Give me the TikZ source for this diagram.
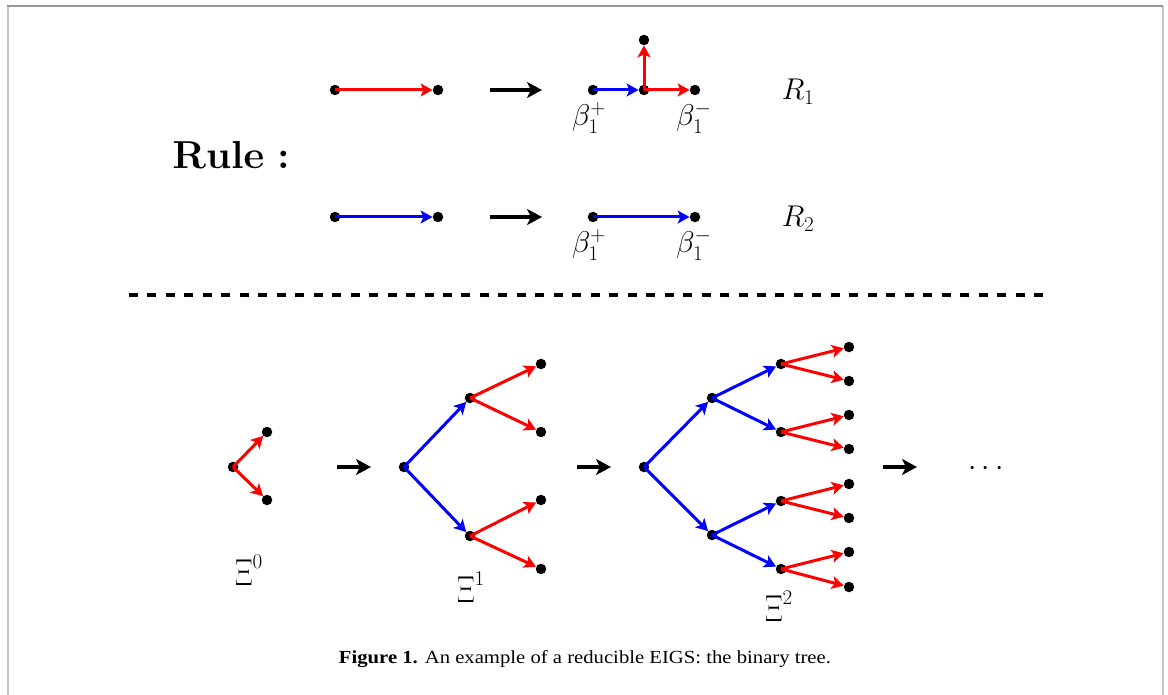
\RequirePackage{fix-cm}
\documentclass[tikz,border=0pt]{standalone}
\usepackage{fontspec}
\usepackage{graphicx}
\usetikzlibrary{arrows.meta}
\newfontfamily\capfont{Liberation Serif}
\definecolor{frameside}{RGB}{200,200,200}
\definecolor{frametop}{RGB}{150,150,150}
\newcommand{\tallxi}{\scalebox{0.95}[1.25]{$\Xi$}}
\tikzset{
  dot/.style={circle,fill=black,inner sep=0pt,minimum size=10.5pt},
  redarr/.style={draw=red,line width=3pt,-{Stealth[length=12pt,width=13pt,inset=3pt]}},
  bluearr/.style={draw=blue,line width=3pt,-{Stealth[length=12pt,width=13pt,inset=3pt]}},
  blkarr/.style={draw=black,line width=3.5pt,-{Stealth[length=15pt,width=16pt,inset=4pt]}},
  lbl/.style={inner sep=0pt,font=\fontsize{30}{32}\selectfont},
}
\begin{document}
\begin{tikzpicture}[x=1pt,y=-1pt]
\useasboundingbox (0,0) rectangle (1168,695);
% frame
\draw[frameside,line width=2pt] (7.5,6) -- (7.5,695);
\draw[frameside,line width=2pt] (1162.5,6) -- (1162.5,695);
\draw[frametop,line width=1.5pt] (7,6) -- (1163,6);

% Rule label
\node[inner sep=0pt,font=\fontsize{39}{41}\selectfont] (rule) at (231,155)
  {\scalebox{1.03}[1]{\boldmath$\mathbf{Rule:}$}};

% R1 row
\node[dot] (a1) at (335,90) {};
\node[dot] (a2) at (438,90) {};
\draw[redarr] (a1.center) -- (a2);
\coordinate (k1s) at (490,90);
\coordinate (k1e) at (542,90);
\draw[blkarr] (k1s) -- (k1e);
\node[dot] (b1) at (593,90) {};
\node[dot] (b2) at (644,90) {};
\node[dot] (b3) at (695,90) {};
\node[dot] (b4) at (644,40) {};
\draw[bluearr] (b1.center) -- (b2);
\draw[redarr] (b2.center) -- (b3);
\draw[redarr] (b2.center) -- (b4);
\node[lbl] (bp1) at (589,118) {$\beta_1^+$};
\node[lbl] (bm1) at (694,118) {$\beta_1^-$};
\node[lbl] (r1) at (798,92) {$R_1$};

% R2 row
\node[dot] (c1) at (335,217) {};
\node[dot] (c2) at (438,217) {};
\draw[bluearr] (c1.center) -- (c2);
\coordinate (k2s) at (490,217);
\coordinate (k2e) at (542,217);
\draw[blkarr] (k2s) -- (k2e);
\node[dot] (d1) at (593,217) {};
\node[dot] (d2) at (695,217) {};
\draw[bluearr] (d1.center) -- (d2);
\node[lbl] (bp2) at (589,245) {$\beta_1^+$};
\node[lbl] (bm2) at (694,245) {$\beta_1^-$};
\node[lbl] (r2) at (798,219) {$R_2$};

% dashed separator
\coordinate (sepL) at (129,295);
\coordinate (sepR) at (1043,295);
\draw[line width=4pt,dash pattern=on 9pt off 9.47pt] (sepL) -- (sepR);

% Xi^0
\node[dot] (x0r) at (233,467) {};
\node[dot] (x0a) at (267,432) {};
\node[dot] (x0b) at (267,500) {};
\draw[redarr] (x0r.center) -- (x0a);
\draw[redarr] (x0r.center) -- (x0b);
\node[lbl] (xi0) at (249,570) {$\tallxi^0$};

\coordinate (k3s) at (337,467);
\coordinate (k3e) at (371,467);
\draw[blkarr] (k3s) -- (k3e);

% Xi^1
\node[dot] (y0) at (404,467) {};
\node[dot] (y1) at (470,398) {};
\node[dot] (y2) at (470,536) {};
\node[dot] (y11) at (541,364) {};
\node[dot] (y12) at (541,432) {};
\node[dot] (y21) at (541,500) {};
\node[dot] (y22) at (541,569) {};
\draw[bluearr] (y0.center) -- (y1);
\draw[bluearr] (y0.center) -- (y2);
\draw[redarr] (y1.center) -- (y11);
\draw[redarr] (y1.center) -- (y12);
\draw[redarr] (y2.center) -- (y21);
\draw[redarr] (y2.center) -- (y22);
\node[lbl] (xi1) at (471,587) {$\tallxi^1$};

\coordinate (k4s) at (577,467);
\coordinate (k4e) at (611,467);
\draw[blkarr] (k4s) -- (k4e);

% Xi^2
\node[dot] (z0) at (644,467) {};
\node[dot] (z1) at (712,398) {};
\node[dot] (z2) at (712,535) {};
\node[dot] (z11) at (781,364) {};
\node[dot] (z12) at (781,432) {};
\node[dot] (z21) at (781,501) {};
\node[dot] (z22) at (781,569) {};
\node[dot] (l1) at (849,347) {};
\node[dot] (l2) at (849,381) {};
\node[dot] (l3) at (849,415) {};
\node[dot] (l4) at (849,449) {};
\node[dot] (l5) at (849,484) {};
\node[dot] (l6) at (849,518) {};
\node[dot] (l7) at (849,552) {};
\node[dot] (l8) at (849,587) {};
\draw[bluearr] (z0.center) -- (z1);
\draw[bluearr] (z0.center) -- (z2);
\draw[bluearr] (z1.center) -- (z11);
\draw[bluearr] (z1.center) -- (z12);
\draw[bluearr] (z2.center) -- (z21);
\draw[bluearr] (z2.center) -- (z22);
\draw[redarr] (z11.center) -- (l1);
\draw[redarr] (z11.center) -- (l2);
\draw[redarr] (z12.center) -- (l3);
\draw[redarr] (z12.center) -- (l4);
\draw[redarr] (z21.center) -- (l5);
\draw[redarr] (z21.center) -- (l6);
\draw[redarr] (z22.center) -- (l7);
\draw[redarr] (z22.center) -- (l8);
\node[lbl] (xi2) at (779,606) {$\tallxi^2$};

\coordinate (k5s) at (883,467);
\coordinate (k5e) at (917,467);
\draw[blkarr] (k5s) -- (k5e);

\node[lbl] (dots) at (986,469) {$\cdots$};

% caption
\node[inner sep=0pt,anchor=base] (cap) at (585,663)
  {\resizebox{492pt}{13pt}{\capfont\textbf{Figure 1.} An example of a reducible EIGS: the binary tree.}};
\end{tikzpicture}
\end{document}
